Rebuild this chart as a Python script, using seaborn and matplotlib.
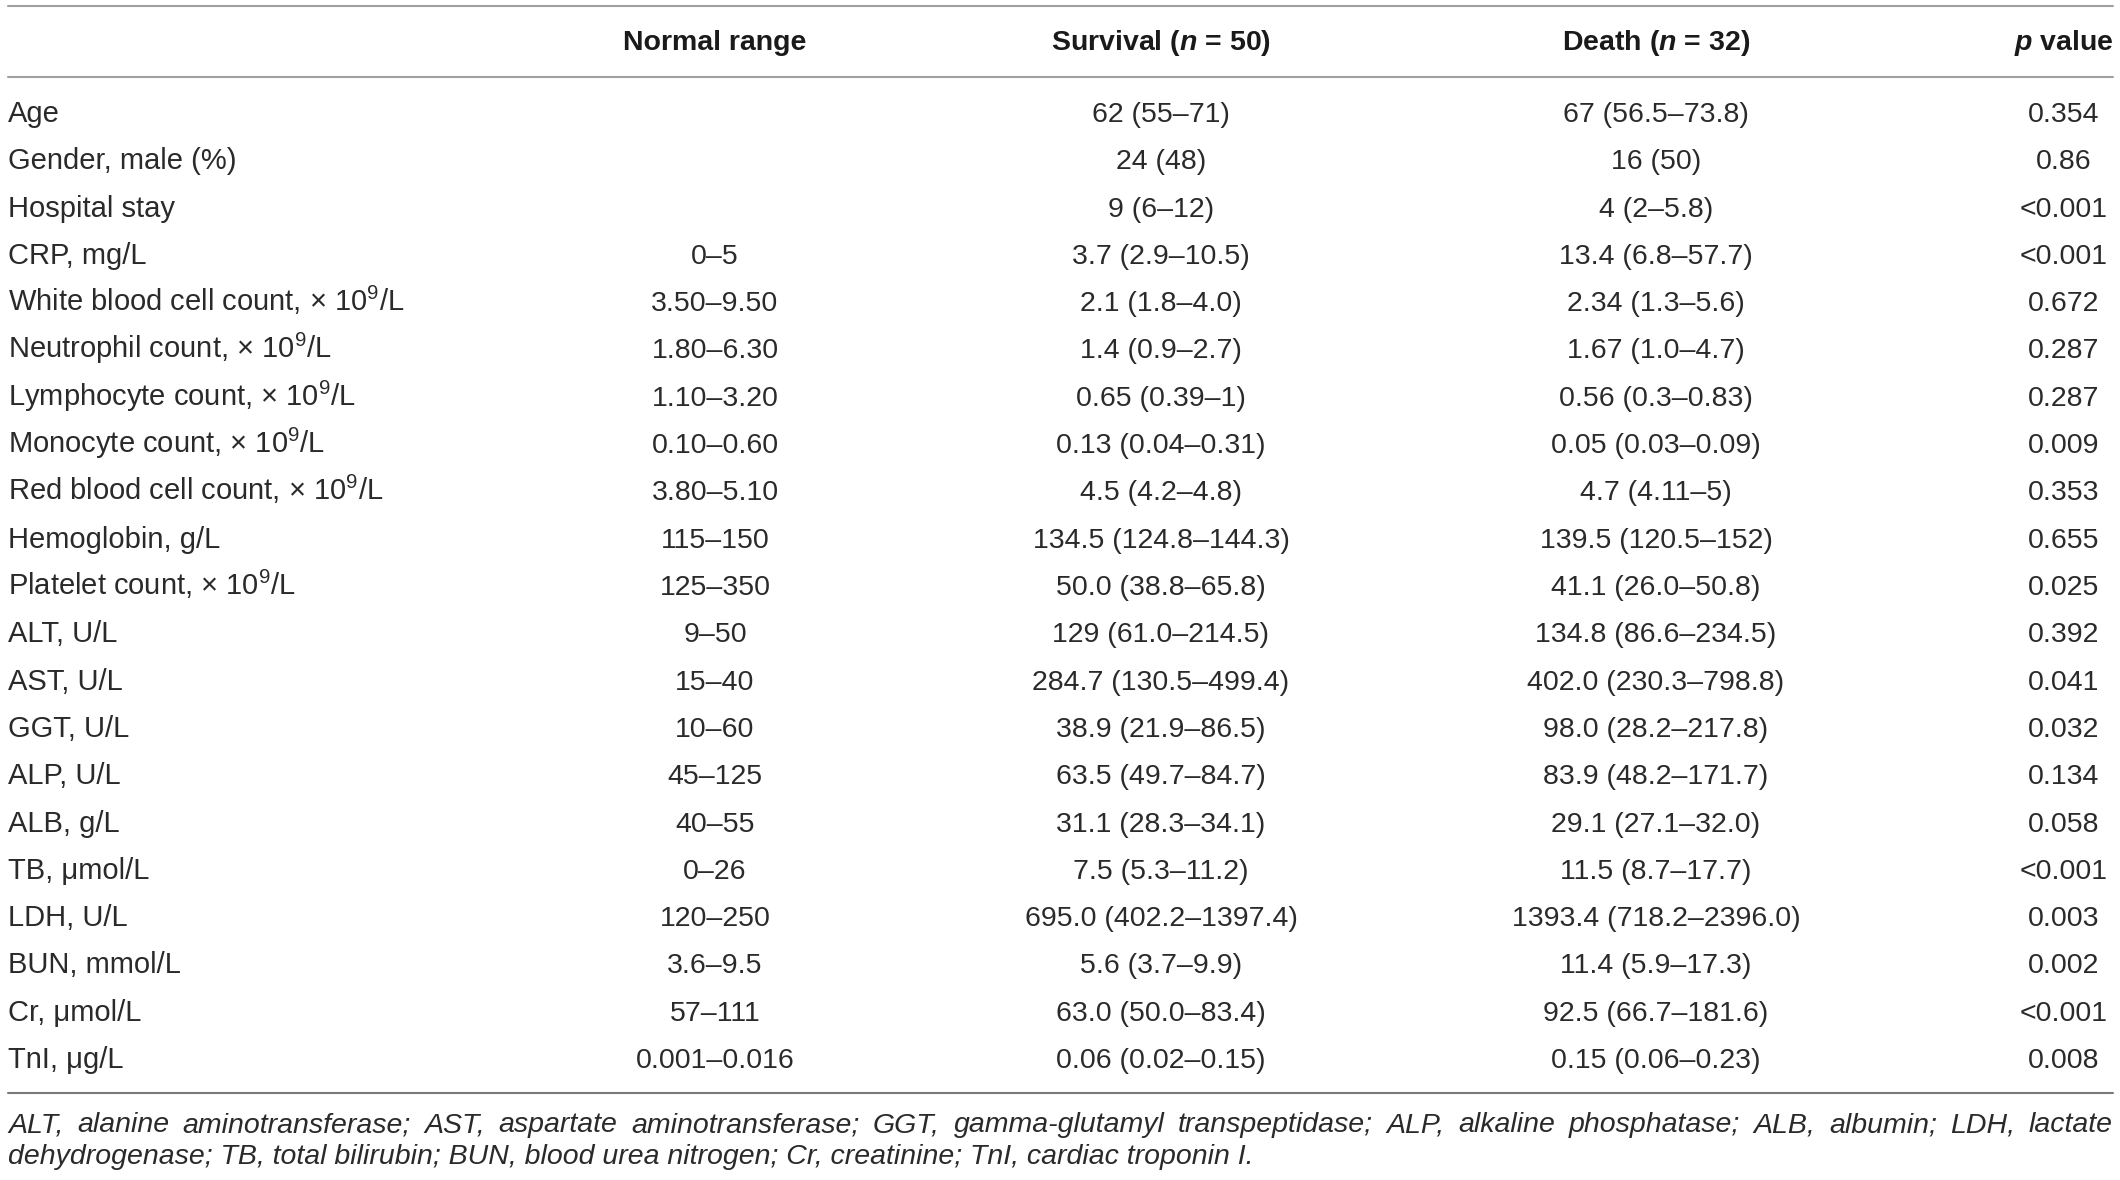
import matplotlib
matplotlib.use("Agg")
import matplotlib.pyplot as plt
import seaborn as sns

# Table content
variables = ["Age", "Gender, male (%)", "Hospital stay", "CRP, mg/L",
             "White blood cell count, × 10$^{9}$/L", "Neutrophil count, × 10$^{9}$/L",
             "Lymphocyte count, × 10$^{9}$/L", "Monocyte count, × 10$^{9}$/L",
             "Red blood cell count, × 10$^{9}$/L", "Hemoglobin, g/L",
             "Platelet count, × 10$^{9}$/L", "ALT, U/L", "AST, U/L", "GGT, U/L",
             "ALP, U/L", "ALB, g/L", "TB, μmol/L", "LDH, U/L", "BUN, mmol/L",
             "Cr, μmol/L", "TnI, μg/L"]
normal_range = ["", "", "", "0–5", "3.50–9.50", "1.80–6.30", "1.10–3.20", "0.10–0.60",
                "3.80–5.10", "115–150", "125–350", "9–50", "15–40", "10–60", "45–125",
                "40–55", "0–26", "120–250", "3.6–9.5", "57–111", "0.001–0.016"]
survival = ["62 (55–71)", "24 (48)", "9 (6–12)", "3.7 (2.9–10.5)", "2.1 (1.8–4.0)",
            "1.4 (0.9–2.7)", "0.65 (0.39–1)", "0.13 (0.04–0.31)", "4.5 (4.2–4.8)",
            "134.5 (124.8–144.3)", "50.0 (38.8–65.8)", "129 (61.0–214.5)",
            "284.7 (130.5–499.4)", "38.9 (21.9–86.5)", "63.5 (49.7–84.7)",
            "31.1 (28.3–34.1)", "7.5 (5.3–11.2)", "695.0 (402.2–1397.4)",
            "5.6 (3.7–9.9)", "63.0 (50.0–83.4)", "0.06 (0.02–0.15)"]
death = ["67 (56.5–73.8)", "16 (50)", "4 (2–5.8)", "13.4 (6.8–57.7)", "2.34 (1.3–5.6)",
         "1.67 (1.0–4.7)", "0.56 (0.3–0.83)", "0.05 (0.03–0.09)", "4.7 (4.11–5)",
         "139.5 (120.5–152)", "41.1 (26.0–50.8)", "134.8 (86.6–234.5)",
         "402.0 (230.3–798.8)", "98.0 (28.2–217.8)", "83.9 (48.2–171.7)",
         "29.1 (27.1–32.0)", "11.5 (8.7–17.7)", "1393.4 (718.2–2396.0)",
         "11.4 (5.9–17.3)", "92.5 (66.7–181.6)", "0.15 (0.06–0.23)"]
p_values = ["0.354", "0.86", "<0.001", "<0.001", "0.672", "0.287", "0.287", "0.009",
            "0.353", "0.655", "0.025", "0.392", "0.041", "0.032", "0.134", "0.058",
            "<0.001", "0.003", "0.002", "<0.001", "0.008"]
headers = ["Normal range", r"Survival ($\mathbfit{n}$ = 50)",
           r"Death ($\mathbfit{n}$ = 32)", r"$\mathbfit{p}$ value"]
footnote = ("ALT, alanine aminotransferase; AST, aspartate aminotransferase; "
            "GGT, gamma-glutamyl transpeptidase; ALP, alkaline phosphatase; "
            "ALB, albumin; LDH, lactate dehydrogenase; TB, total bilirubin; "
            "BUN, blood urea nitrogen; Cr, creatinine; TnI, cardiac troponin I.")

sns.set_theme(style="white")
font = "Liberation Sans"
plt.rcParams["font.family"] = [font, "DejaVu Sans"]
plt.rcParams["mathtext.fontset"] = "custom"
plt.rcParams["mathtext.rm"] = font
plt.rcParams["mathtext.it"] = font + ":italic"
plt.rcParams["mathtext.bf"] = font + ":bold"
plt.rcParams["mathtext.bfit"] = font + ":italic:bold"
plt.rcParams["mathtext.default"] = "regular"

txt = "#2a2a2a"
fs = 20.5
fig = plt.figure(figsize=(21.2, 11.8), dpi=100)
ax = fig.add_axes([0, 0, 1, 1])
ax.set_xlim(0, 2120)
ax.set_ylim(1180, 0)
ax.axis("off")

left, right = 8, 2113
col_x = [715, 1161, 1656, 2064]

# rules
ax.plot([left, right], [6, 6], color="#a0a0a0", lw=1.5)
ax.plot([left, right], [77, 77], color="#a0a0a0", lw=1.5)
ax.plot([left, right], [1093, 1093], color="#7a7a7a", lw=1.5)

for x, h in zip(col_x, headers):
    ax.text(x, 50, h, ha="center", va="baseline", fontsize=fs, fontweight="bold", color="#1a1a1a")

row0, pitch = 113, 47.3
for i in range(len(variables)):
    yb = row0 + i * pitch + 9
    ax.text(left, yb, variables[i], ha="left", va="baseline", fontsize=21, color=txt)
    for x, col in zip(col_x, [normal_range, survival, death, p_values]):
        ax.text(x, yb, col[i], ha="center", va="baseline", fontsize=fs, color=txt)

# footnote, first line justified
renderer = fig.canvas.get_renderer()
words = footnote.split(" ")
fs_note = 20.5
n_first = words.index("lactate") + 1
line1, line2 = words[:n_first], words[n_first:]
objs = [ax.text(0, 1132, w, ha="left", va="baseline", fontsize=fs_note, style="italic", color=txt)
        for w in line1]
widths = [o.get_window_extent(renderer).width for o in objs]
gap = (right - left - sum(widths)) / (len(objs) - 1)
x = left
for o, w in zip(objs, widths):
    o.set_x(x)
    x += w + gap
ax.text(left, 1164, " ".join(line2), ha="left", va="baseline", fontsize=fs_note,
        style="italic", color=txt)

fig.savefig("out.png", dpi=100, facecolor="white")
